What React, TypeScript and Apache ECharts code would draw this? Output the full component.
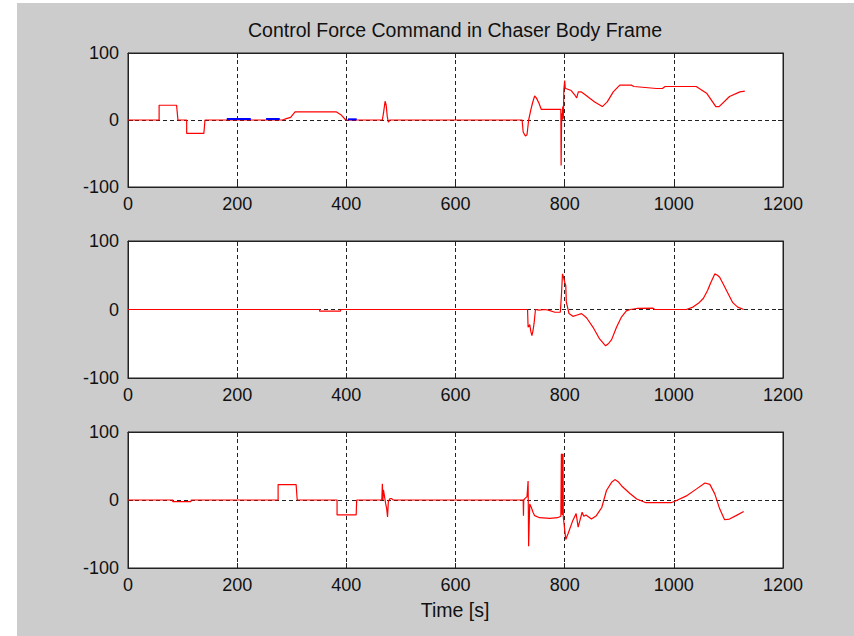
import React, { useEffect, useRef } from "react";
import * as echarts from "echarts";

const TITLE = "Control Force Command in Chaser Body Frame";
const X_LABEL = "Time [s]";
const X_TICKS = [0, 200, 400, 600, 800, 1000, 1200];
const Y_TICKS = [-100, 0, 100];

// Subplot 1 (red)
const fx: number[][] = [
  [0, 0], [57, 0], [57, 22], [89, 22], [91.5, 0], [107.5, 0], [107.5, -20], [139, -20], [141, 0],
  [283, 0], [290, 2], [298, 4], [306, 12], [382, 12], [390, 8], [399, 0],
  [466, 0], [468, 10], [471, 28], [473, 22], [475, 5], [477, -3], [480, 0],
  [722, 0], [724, -18], [728, -24], [731, -22], [734, 0], [738, 15], [741, 25], [745, 36], [748, 33],
  [750, 30], [753, 25], [757, 16], [793, 16], [793.5, -68], [794.5, 10], [795.5, 0], [796.5, 20],
  [797.5, 2], [798.5, 45], [800, 59], [801, 48], [802, 47], [812, 44], [818, 38], [822, 33], [825, 42],
  [830, 42], [837, 38], [855, 27], [869, 20], [878, 27], [889, 42], [901, 52], [922, 52], [927, 50],
  [968, 47], [979, 47], [984, 50], [1041, 50], [1060, 40], [1077, 20], [1083, 20], [1102, 35],
  [1121, 42], [1130, 43],
];
// Subplot 1 (blue segments)
const fxBlueA: number[][] = [[181, 1.5], [225, 1.5]];
const fxBlueB: number[][] = [[253, 1.5], [278, 1.5]];
const fxBlueC: number[][] = [[403, 1], [419, 1]];

// Subplot 2 (red)
const fy: number[][] = [
  [0, 0], [351, 0], [351, -2.5], [389, -2.5], [390, 0], [732, 0], [733, -26], [736, -22], [738, -32],
  [740, -38], [742, -31], [744, -20], [746.5, 0], [753, -1], [764, 0], [770, -1], [782, -4], [792, -4],
  [794, 20], [796, 52], [798, 47], [800, 40], [802, 35], [803, 11], [808, -6], [815, -10], [823, -8],
  [831, -6], [840, -12], [852, -26], [864, -43], [875, -53], [880, -50], [886, -44], [895, -26],
  [904, -11], [913, -2], [920, 0], [932, 1.5], [962, 2], [965, 0], [1023, 0], [1035, 3.5], [1045, 9],
  [1054, 16], [1062, 28], [1067, 38], [1075, 52], [1080, 50], [1084, 47], [1090, 38], [1097, 27],
  [1108, 10], [1117, 3.5], [1128, 0],
];

// Subplot 3 (red)
const fz: number[][] = [
  [0, 0], [82, 0], [82, -2.5], [115, -2.5], [116, 0], [275, 0], [275, 22.7], [308, 22.7], [310, 0],
  [383, 0], [383, -22], [418, -22], [419, 0], [465, 0], [466, 24], [467, 0], [468, 15], [470, 5],
  [472, -5], [474, -13], [475.5, -25], [477, -2], [480, 2], [483, 2], [486, 0], [724, 0], [724.5, -23],
  [725, 0], [727, 2], [731, 5], [733, 28], [734, -68], [736, -6], [739, -11], [742, -18], [745, -23],
  [754, -26], [773, -27], [787, -26], [793, -24], [794, 68], [794.5, -20], [795, 68], [795.5, -22],
  [796, 68], [796.5, -20], [797, 68], [797.5, -25], [802, -58], [806, -50], [815, -30], [821, -20],
  [824.7, -40], [828, -30], [832, -18], [835, -24], [839, -22], [849, -28], [858, -23], [868, -11],
  [876.6, 14], [886, 26], [892, 30], [898, 27], [904, 21], [919, 10], [932, 1.5], [949, -4], [995, -4],
  [1004, -1], [1023, 6], [1041, 16], [1057, 25], [1066, 23], [1075, 9], [1084, -13], [1093, -29],
  [1102, -28], [1114, -23], [1128, -17],
];

const FONT = "'Liberation Sans', Arial, Helvetica, sans-serif";
const AX = "#222";
const GRIDS = [
  { top: 53, height: 134 },
  { top: 241, height: 137 },
  { top: 432, height: 136 },
];

export default function App() {
  const ref = useRef<HTMLDivElement>(null);
  useEffect(() => {
    if (!ref.current) return;
    const chart = echarts.init(ref.current, null, { renderer: "svg" });
    const grid: any[] = [];
    const xAxis: any[] = [];
    const yAxis: any[] = [];
    const lineStyleAx = { color: AX, width: 1 };
    const fmt = (v: number) => String(v);
    GRIDS.forEach((g, i) => {
      grid.push({
        left: 128, width: 655, top: g.top, height: g.height,
        show: true, backgroundColor: "#fff", borderColor: AX, borderWidth: 1,
      });
      xAxis.push({
        gridIndex: i, type: "value", min: X_TICKS[0], max: X_TICKS[X_TICKS.length - 1], interval: 200,
        position: "bottom",
        axisLine: { show: true, onZero: false, lineStyle: lineStyleAx },
        axisTick: { show: true, inside: true, length: 5, lineStyle: lineStyleAx },
        axisLabel: { show: true, margin: 8, fontSize: 18, color: "#111", fontFamily: FONT, showMinLabel: true, showMaxLabel: true, formatter: fmt },
        splitLine: { show: true, lineStyle: { color: AX, width: 1, type: [4, 3] } },
      });
      xAxis.push({
        gridIndex: i, type: "value", min: 0, max: 1200, interval: 200, position: "top",
        axisLine: { show: true, onZero: false, lineStyle: lineStyleAx },
        axisTick: { show: true, inside: true, length: 5, lineStyle: lineStyleAx },
        axisLabel: { show: false }, splitLine: { show: false },
      });
      yAxis.push({
        gridIndex: i, type: "value", min: Y_TICKS[0], max: Y_TICKS[Y_TICKS.length - 1], interval: 100,
        position: "left",
        axisLine: { show: true, onZero: false, lineStyle: lineStyleAx },
        axisTick: { show: true, inside: true, length: 5, lineStyle: lineStyleAx },
        axisLabel: { show: true, margin: 9, fontSize: 18, color: "#111", fontFamily: FONT, showMinLabel: true, showMaxLabel: true, formatter: fmt },
        splitLine: { show: true, lineStyle: { color: AX, width: 1, type: [4, 3] } },
      });
      yAxis.push({
        gridIndex: i, type: "value", min: -100, max: 100, interval: 100, position: "right",
        axisLine: { show: true, onZero: false, lineStyle: lineStyleAx },
        axisTick: { show: true, inside: true, length: 5, lineStyle: lineStyleAx },
        axisLabel: { show: false }, splitLine: { show: false },
      });
    });
    const red = (data: number[][], i: number) => ({
      type: "line", data, xAxisIndex: i * 2, yAxisIndex: i * 2, symbol: "none",
      lineStyle: { color: "#ff0000", width: 1.2 }, z: 3,
    });
    const blue = (data: number[][]) => ({
      type: "line", data, xAxisIndex: 0, yAxisIndex: 0, symbol: "none",
      lineStyle: { color: "#0000ff", width: 2 }, z: 4,
    });
    chart.setOption({
      animation: false,
      backgroundColor: "transparent",
      grid, xAxis, yAxis,
      series: [red(fx, 0), blue(fxBlueA), blue(fxBlueB), blue(fxBlueC), red(fy, 1), red(fz, 2)],
      graphic: [
        {
          type: "text", x: 455, y: 30,
          style: { text: TITLE, align: "center", verticalAlign: "middle", font: `19.5px ${FONT}`, fill: "#111" },
        },
        {
          type: "text", x: 455, y: 610,
          style: { text: X_LABEL, align: "center", verticalAlign: "middle", font: `19.5px ${FONT}`, fill: "#111" },
        },
      ],
    });
    return () => chart.dispose();
  }, []);
  return (
    <div style={{ position: "fixed", left: 0, top: 0, width: 854, height: 636, background: "#fff" }}>
      <div style={{ position: "absolute", left: 17, top: 3, width: 837, height: 633, background: "#cccccc" }} />
      <div ref={ref} style={{ position: "absolute", left: 0, top: 0, width: 854, height: 636 }} />
    </div>
  );
}
